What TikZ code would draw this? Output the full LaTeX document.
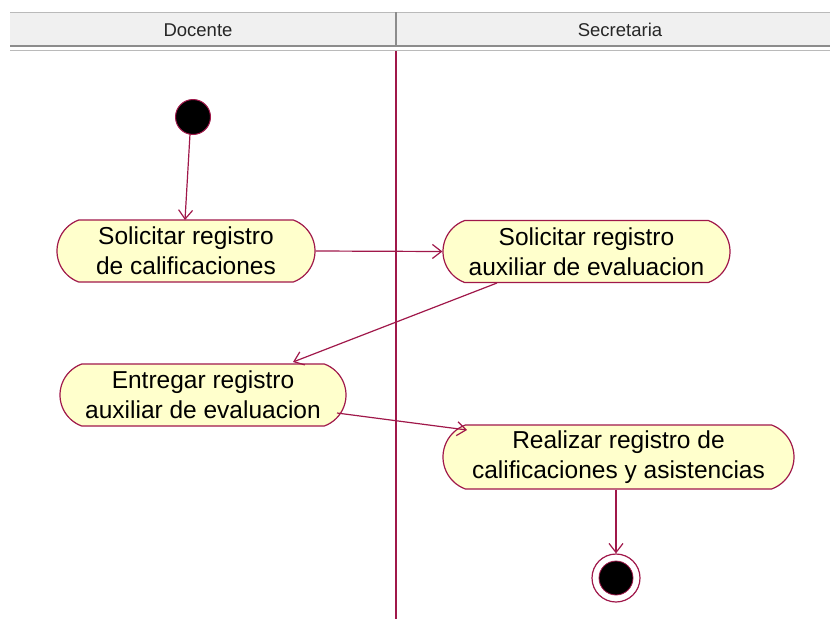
\documentclass[tikz,border=0pt]{standalone}
\usepackage{fontspec}
\setmainfont{Liberation Sans}
\usetikzlibrary{arrows.meta,shapes.misc}
\definecolor{umlline}{HTML}{A0184A}
\definecolor{umlfill}{HTML}{FFFFCC}
\definecolor{hdrfill}{HTML}{F0F0F0}
\definecolor{hdrline}{HTML}{8C8C8C}
\tikzset{
  x=1pt, y=-1pt,
  act/.style={rounded rectangle, rounded rectangle arc length=140,
    draw=umlline, fill=umlfill, line width=1.2pt,
    minimum height=62pt, align=center, inner sep=0pt,
    font=\fontsize{24.5}{30}\selectfont},
  flow/.style={draw=umlline, line width=1.2pt, -{Straight Barb[length=9pt,width=14pt,line width=1.2pt]}},
  hdr/.style={font=\fontsize{18.5}{20}\selectfont, text=black!85}
}
\begin{document}
\begin{tikzpicture}
\useasboundingbox (0,0) rectangle (830,619);
\fill[white] (0,0) rectangle (830,619);
% header
\fill[hdrfill] (10,12) rectangle (830,46);
\draw[hdrline!60, line width=0.8pt] (10,12) -- (830,12);
\draw[hdrline, line width=2.5pt] (10,46) -- (830,46);
\draw[hdrline!60, line width=1pt] (10,50) -- (830,50);
\draw[hdrline, line width=2pt] (396,12) -- (396,46);
\node[hdr] (h1) at (198,30) {Docente};
\node[hdr] (h2) at (620,30) {Secretaria};
% lane line
\draw[umlline, line width=1.5pt] (396,51) -- (396,619);
% nodes
\node[circle, fill=black, draw=umlline, line width=1pt, minimum size=35pt, inner sep=0pt] (start) at (193,117) {};
\node[act, minimum width=258pt] (a1) at (186,251) {Solicitar registro\\de calificaciones};
\node[act, minimum width=287pt] (a2) at (586.5,251.5) {Solicitar registro\\auxiliar de evaluacion};
\node[act, minimum width=286pt] (a3) at (203,395) {Entregar registro\\auxiliar de evaluacion};
\node[act, minimum width=351pt, minimum height=64pt] (a4) at (618.5,457) {Realizar registro de\\calificaciones y asistencias};
\node[circle, draw=umlline, line width=1.2pt, fill=white, minimum size=48pt, inner sep=0pt] (end) at (616,578) {};
\node[circle, fill=black, draw=umlline, line width=0.8pt, minimum size=34pt, inner sep=0pt] (endin) at (end.center) {};
% flows
\coordinate (s1) at (190,134);
\coordinate (t1) at (185,220);
\draw[flow] (s1) -- (t1);
\draw[flow] (a1.east) -- (a2.west);
\coordinate (s3) at (497,283);
\coordinate (t3) at (293,362);
\draw[flow] (s3) -- (t3);
\coordinate (s4) at (337,413);
\coordinate (t4) at (467,430);
\draw[flow] (s4) -- (t4);
\draw[flow] (a4.south -| end.north) -- (end.north);
\end{tikzpicture}
\end{document}
